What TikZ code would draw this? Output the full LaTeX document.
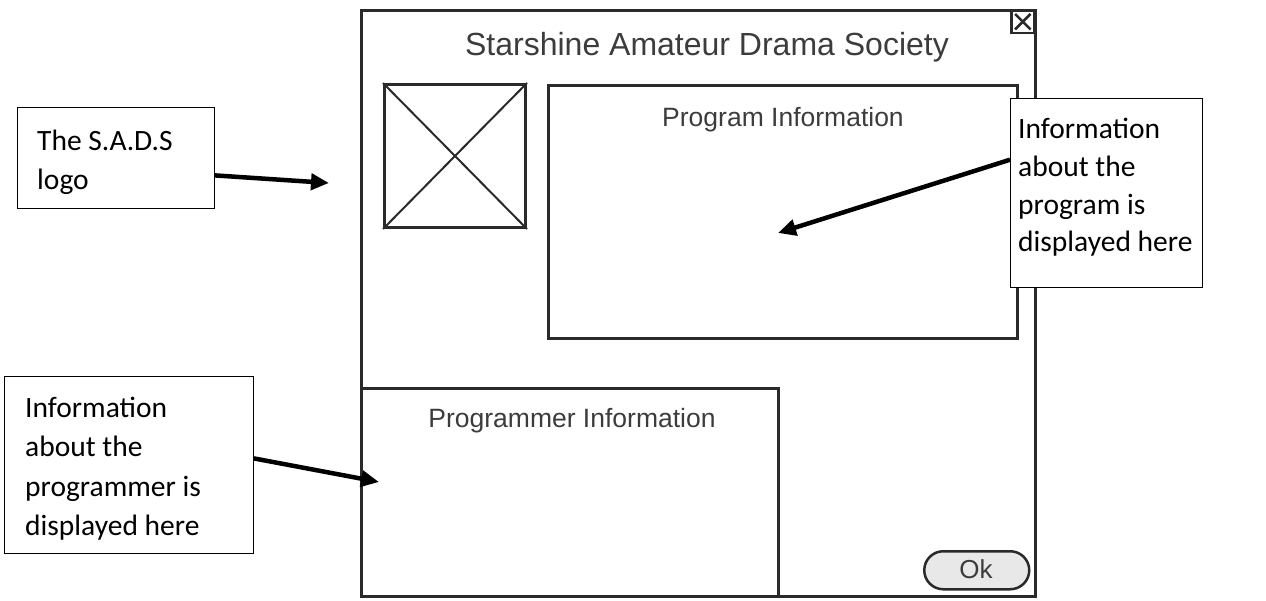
\documentclass[tikz,border=0pt]{standalone}
\usepackage{fontspec}
\setmainfont{Liberation Sans}
\newfontfamily\notefont{Carlito}
\usetikzlibrary{arrows.meta}
\definecolor{frame}{HTML}{2A2A2A}
\definecolor{uitext}{HTML}{3C3C3C}
\definecolor{btnfill}{HTML}{E8E8E8}
\begin{document}
\begin{tikzpicture}[x=1pt,y=-1pt,
  panel/.style={draw=frame, line width=3pt, rectangle, inner sep=0pt, anchor=north west},
  uilabel/.style={text=uitext, inner sep=0pt, anchor=base},
  notebox/.style={draw=black, fill=white, line width=0.9pt, rectangle, inner sep=0pt, anchor=north west},
  notetext/.style={anchor=north west, inner sep=0pt, align=left,
    font=\notefont\fontsize{29.5}{39.3}\selectfont},
  pointer/.style={line width=4.5pt, -{Triangle[length=18pt,width=16pt]}}
]
\useasboundingbox (0,0) rectangle (1266,601);

% dialog window
\node[panel, minimum width=674pt, minimum height=586pt] (window) at (360,9) {};
\node[uilabel, font=\fontsize{32}{35}\selectfont] (title) at (707,56) {Starshine Amateur Drama Society};

% close button
\node[panel, line width=2.5pt, minimum width=23pt, minimum height=23pt] (close) at (1010,9) {};
\draw[frame, line width=2.5pt] ([shift={(5pt,-5pt)}]close.north west) -- ([shift={(-5pt,5pt)}]close.south east);
\draw[frame, line width=2.5pt] ([shift={(-5pt,-5pt)}]close.north east) -- ([shift={(5pt,5pt)}]close.south west);

% logo placeholder
\node[panel, minimum width=141pt, minimum height=143pt] (logo) at (383,83) {};
\draw[frame, line width=2pt] (logo.north west) -- (logo.south east);
\draw[frame, line width=2pt] (logo.north east) -- (logo.south west);

% program information panel
\node[panel, minimum width=469pt, minimum height=253pt] (program) at (547,84) {};
\node[uilabel, font=\fontsize{26.5}{30}\selectfont] (programlabel) at (783,127) {Program Information};

% programmer information panel
\node[panel, minimum width=417pt, minimum height=208pt] (programmer) at (360,387) {};
\node[uilabel, font=\fontsize{26.5}{30}\selectfont] (programmerlabel) at (572,427) {Programmer Information};

% ok button
\node[draw=frame, line width=2.5pt, fill=btnfill, rounded corners=19pt,
      minimum width=105pt, minimum height=38pt, inner sep=0pt, anchor=north west] (ok) at (923,550) {};
\node[uilabel, font=\fontsize{26}{30}\selectfont] (oklabel) at (976,578) {Ok};

% annotation boxes
\node[notebox, minimum width=197pt, minimum height=101pt] (logonote) at (17,107) {};
\node[notetext] (logonotetext) at (37,130) {The S.A.D.S\\logo};

\node[notebox, minimum width=192pt, minimum height=189pt] (prognote) at (1010,98) {};
\node[notetext, font=\notefont\fontsize{29.5}{37.8}\selectfont] (prognotetext) at (1018,118) {Information\\about the\\program is\\displayed here};

\node[notebox, minimum width=249pt, minimum height=177pt] (devnote) at (4,376) {};
\node[notetext] (devnotetext) at (25,397) {Information\\about the\\programmer is\\displayed here};

% pointers
\coordinate (logotip) at (329,183);
\coordinate (progtip) at (778,233);
\coordinate (devtip) at (379,482);
\draw[pointer] (logonote.-10) -- (logotip);
\draw[pointer] (prognote.161) -- (progtip);
\draw[pointer] (devnote.3) -- (devtip);
\end{tikzpicture}
\end{document}
